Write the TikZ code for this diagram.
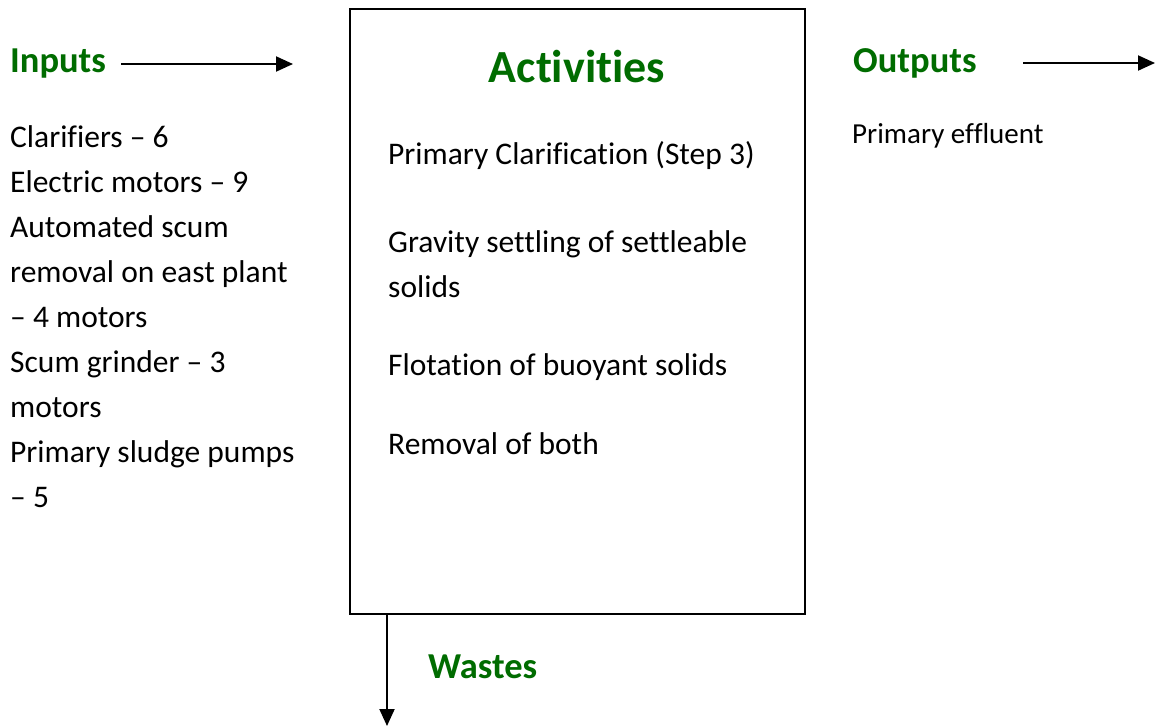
\documentclass[tikz,border=0pt]{standalone}
\usepackage{fontspec}
\setmainfont{Carlito}[Ligatures={NoCommon}]
\usetikzlibrary{arrows.meta}
\definecolor{headgreen}{RGB}{0,108,0}
\tikzset{
  heading/.style={anchor=base west, inner sep=0pt, text=headgreen,
    font=\fontsize{36.5}{44}\selectfont\bfseries},
  bigheading/.style={heading, anchor=base, font=\fontsize{46}{55}\selectfont\bfseries},
  bodyline/.style={anchor=base west, inner sep=0pt, font=\fontsize{31.5}{40}\selectfont},
  smallline/.style={anchor=base west, inner sep=0pt, font=\fontsize{29}{36}\selectfont},
  flow/.style={line width=2pt, -{Triangle[length=17pt,width=15pt]}},
  frame/.style={draw, line width=2pt}
}
\begin{document}
\begin{tikzpicture}[x=1pt,y=-1pt]
\useasboundingbox (0,0) rectangle (1155,726);

% central activity block
\node[frame, minimum width=455pt, minimum height=605pt, anchor=north west, inner sep=0pt] (act) at (349,8) {};
\node[bigheading] (acthead) at (577,82) {Activities};
\node[bodyline] (a1) at (388,164) {Primary Clarification (Step 3)};
\node[bodyline] (a2) at (388,252) {Gravity settling of settleable};
\node[bodyline] (a3) at (388,297) {solids};
\node[bodyline] (a4) at (388,375) {Flotation of buoyant solids};
\node[bodyline] (a5) at (388,454) {Removal of both};

% inputs
\node[heading] (inhead) at (10,72) {Inputs};
\coordinate (inend) at (293,64);
\draw[flow] (inhead.east |- inend) ++(15,0) coordinate (instart) -- (inend);
\foreach \t [count=\i] in {Clarifiers -- 6, Electric motors -- 9, Automated scum,
  removal on east plant, -- 4 motors, Scum grinder -- 3, motors,
  Primary sludge pumps, -- 5}
  \node[bodyline] (in\i) at (10,{147+45*(\i-1)}) {\t};

% outputs
\node[heading] (outhead) at (853,72) {Outputs};
\coordinate (outstart) at (1023,63);
\coordinate (outend) at (1155,63);
\draw[flow] (outstart) -- (outend);
\node[smallline] (out1) at (852,143) {Primary effluent};

% wastes
\coordinate (wtop) at (387,613);
\coordinate (wend) at (387,726);
\draw[flow] (wtop) -- (wend);
\node[heading] (whead) at (428,678) {Wastes};
\end{tikzpicture}
\end{document}
